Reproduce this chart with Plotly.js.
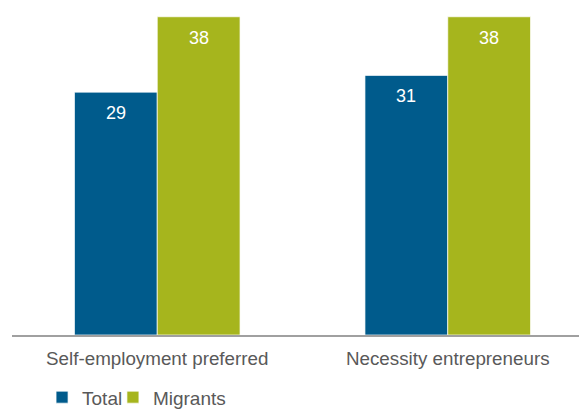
<!DOCTYPE html>
<html>
<head>
<meta charset="utf-8">
<script src="https://cdn.plot.ly/plotly-3.0.1.min.js"></script>
<style>html,body{margin:0;padding:0;background:#fff;}#chart{width:579px;height:410px;}</style>
</head>
<body>
<div id="chart"></div>
<script>
const categories = ["Self-employment preferred", "Necessity entrepreneurs"];
const totalValues = [29, 31];
const migrantValues = [38, 38];
const seriesNames = ["Total", "Migrants"];
const seriesColors = ["#005B8C", "#A6B51D"];

const FONT = "Arial, 'Liberation Sans', sans-serif";
const seriesValues = [totalValues, migrantValues];
const legendIds = ["legend", "legend2"];

const traces = seriesValues.map((vals, i) => ({
  type: "bar",
  name: seriesNames[i],
  x: categories,
  y: vals,
  legend: legendIds[i],
  marker: {color: seriesColors[i], line: {color: "rgba(255,255,255,0.7)", width: 1}},
  hoverinfo: "skip"
}));

const offsets = [-41.5, 41.5];
const annotations = [];
seriesValues.forEach((vals, i) => {
  vals.forEach((v, j) => {
    annotations.push({
      x: categories[j], y: v, xref: "x", yref: "y",
      text: String(v), showarrow: false,
      xshift: offsets[i], yshift: -21, yanchor: "middle",
      font: {family: FONT, size: 18, color: "#ffffff"}
    });
  });
});

const legendBase = {
  orientation: "h", xanchor: "left", y: -0.186, yanchor: "middle",
  font: {family: FONT, size: 19, color: "#595959"},
  bgcolor: "rgba(0,0,0,0)", borderwidth: 0
};

const layout = {
  width: 579, height: 410,
  margin: {l: 12, r: 0, t: 0, b: 75, autoexpand: false},
  paper_bgcolor: "#ffffff", plot_bgcolor: "#ffffff",
  barmode: "group", bargap: 0.43, bargroupgap: 0,
  xaxis: {
    type: "category", range: [-0.5, 1.4518],
    showline: true, linecolor: "#a0a0a0", linewidth: 1.5,
    ticks: "", showgrid: false, zeroline: false,
    ticklabelstandoff: 6,
    tickfont: {family: FONT, size: 18.8, color: "#595959"}
  },
  yaxis: {range: [0, 40], visible: false, showgrid: false, zeroline: false},
  showlegend: true,
  legend: Object.assign({}, legendBase, {x: 0.053}),
  legend2: Object.assign({}, legendBase, {x: 0.178}),
  annotations: annotations
};

Plotly.newPlot("chart", traces, layout, {displayModeBar: false, staticPlot: true});
</script>
</body>
</html>
